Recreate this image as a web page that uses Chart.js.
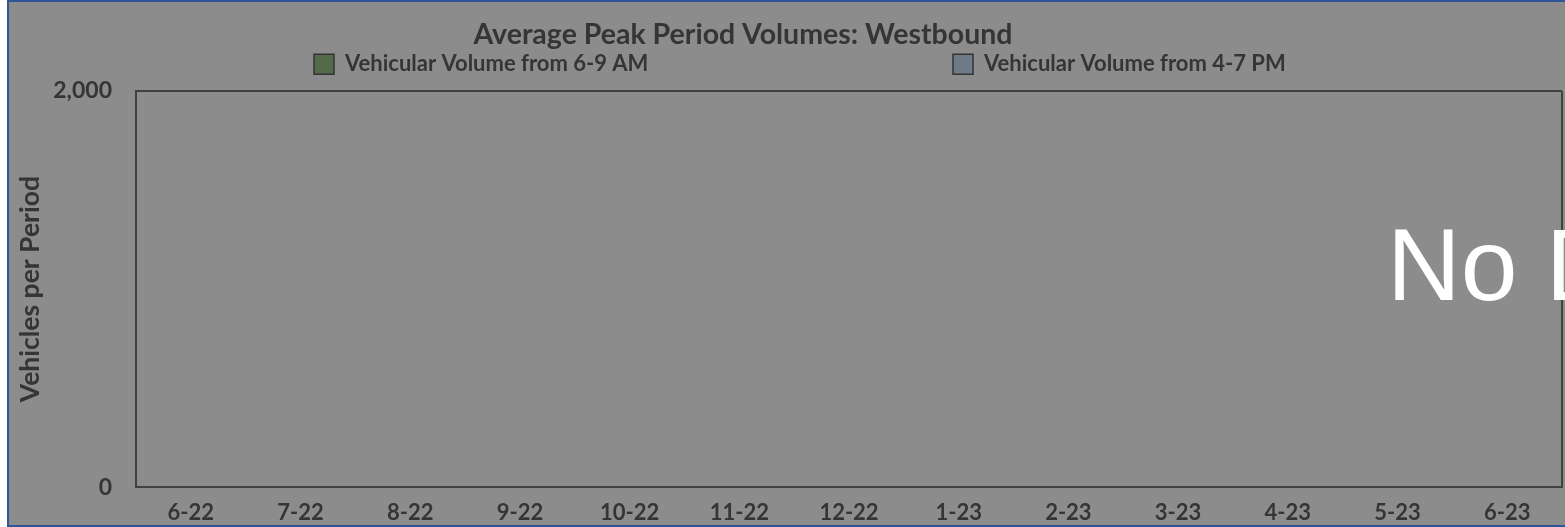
<!DOCTYPE html>
<html>
<head>
<meta charset="utf-8">
<script src="https://cdn.jsdelivr.net/npm/chart.js@4.4.1/dist/chart.umd.min.js"></script>
<style>
  html, body { margin: 0; padding: 0; background: #ffffff; overflow: hidden; width: 1565px; height: 527px; }
  #frame { position: absolute; left: 7px; top: 0; width: 1700px; height: 523px;
           border: 2px solid #2f5597; background: #8c8c8c; overflow: hidden; }
  #c { display: block; }
</style>
</head>
<body>
<div id="frame"><canvas id="c" width="1700" height="523"></canvas></div>
<script>
// ---- data ----
const categories = ['6-22', '7-22', '8-22', '9-22', '10-22', '11-22', '12-22', '1-23', '2-23', '3-23', '4-23', '5-23', '6-23'];
const amVolumes = [null, null, null, null, null, null, null, null, null, null, null, null, null];
const pmVolumes = [null, null, null, null, null, null, null, null, null, null, null, null, null];
const yTickValues = [0, 2000];
const seriesNames = ['Vehicular Volume from 6-9 AM', 'Vehicular Volume from 4-7 PM'];
const chartTitle = 'Average Peak Period Volumes: Westbound';
const yAxisTitle = 'Vehicles per Period';
const noDataText = 'No Data';

// ---- styling ----
const FAMILY = 'Lato, "Open Sans", sans-serif';
const TEXT = '#353535';
const LINE = '#404040';
const mctx = document.createElement('canvas').getContext('2d');
function textW(text, size) { mctx.font = 'bold ' + size + 'px ' + FAMILY; return mctx.measureText(text).width; }
function fitSize(text, target) { return Math.round(100 * target / textW(text, 100) * 2) / 2; }

const titleSize = fitSize(chartTitle, 538.5);
const legendSize = fitSize(seriesNames[0], 305.5);
const xSize = fitSize('7-22', 46);
const yTickSize = fitSize('2,000', 58.5);
const yTitleSize = fitSize(yAxisTitle, 224);

const BOX = 20;
const legendGap = (953 - 314) - BOX - legendSize / 2 - textW(seriesNames[0], legendSize);
const legendItemTop = 52.25 - Math.max((legendSize - BOX) / 2, 0);
const titleLH = titleSize * 1.2;
const titlePadTop = 33 - titleLH / 2;
const titleHeight = titleLH + titlePadTop;
const legendMaxH = 89 - titleHeight;
const xLH = xSize * 1.2;
const xPad = 512.5 - 486.5 - xLH / 2;
const yTitleLH = yTitleSize * 1.2;
const yTitlePad = 21.5 - yTitleLH / 2;

const placeBoxes = {
  id: 'placeBoxes',
  afterLayout(chart) {
    const t = chart.titleBlock;
    if (t) { t.left = 734 - 420; t.right = 734 + 420; }
    const lg = chart.legend;
    if (lg) {
      lg.left = 305 - legendGap;
      lg.right = 5000;
      lg.top = legendItemTop - legendGap;
      lg.bottom = legendItemTop + 40;
    }
  }
};

const noDataPlugin = {
  id: 'noData',
  afterDraw(chart) {
    const { ctx, chartArea } = chart;
    ctx.save();
    ctx.font = '102px "Liberation Sans", Arial, sans-serif';
    ctx.fillStyle = '#ffffff';
    ctx.textAlign = 'left';
    ctx.textBaseline = 'alphabetic';
    ctx.fillText(noDataText, chartArea.left + 1251, chartArea.top + 209);
    ctx.restore();
  }
};

Chart.defaults.font.family = FAMILY;
Chart.defaults.color = TEXT;

new Chart(document.getElementById('c'), {
  type: 'bar',
  data: {
    labels: categories,
    datasets: [
      { label: seriesNames[0], data: amVolumes, backgroundColor: '#556a4a', borderColor: '#333333', borderWidth: 1.5 },
      { label: seriesNames[1], data: pmVolumes, backgroundColor: '#6e7a86', borderColor: '#333333', borderWidth: 1.5 }
    ]
  },
  options: {
    responsive: false,
    animation: false,
    devicePixelRatio: 1,
    layout: { padding: { left: 0, right: 147, top: 0, bottom: 0 } },
    plugins: {
      title: {
        display: true, text: chartTitle, color: TEXT,
        font: { size: titleSize, weight: 'bold', family: FAMILY },
        padding: { top: titlePadTop, bottom: 0 }
      },
      legend: {
        display: true, position: 'top', align: 'start', maxHeight: legendMaxH,
        labels: {
          boxWidth: BOX, boxHeight: BOX, padding: legendGap, color: TEXT,
          font: { size: legendSize, weight: 'bold', family: FAMILY }
        }
      },
      tooltip: { enabled: false }
    },
    scales: {
      x: {
        grid: {
          drawTicks: false, lineWidth: 2,
          color: (c) => (c.type === 'scale' ? LINE : 'rgba(0,0,0,0)')
        },
        border: { display: true, color: LINE, width: 2 },
        ticks: { padding: xPad, color: TEXT, font: { size: xSize, weight: 'bold', family: FAMILY }, maxRotation: 0, autoSkip: false },
        afterFit: (s) => { s.height = 523 - 486.5; }
      },
      y: {
        min: 0, max: 2000,
        afterBuildTicks: (s) => { s.ticks = yTickValues.map(v => ({ value: v })); },
        grid: { drawTicks: false, color: LINE, lineWidth: 2 },
        border: { display: true, color: LINE, width: 2 },
        ticks: {
          padding: 24, color: TEXT,
          font: { size: yTickSize, weight: 'bold', family: FAMILY },
          callback: (v) => Number(v).toLocaleString('en-US')
        },
        title: {
          display: true, text: yAxisTitle, color: TEXT,
          font: { size: yTitleSize, weight: 'bold', family: FAMILY },
          padding: { top: yTitlePad, bottom: 0 }
        },
        afterFit: (s) => { s.width = 127; }
      }
    }
  },
  plugins: [placeBoxes, noDataPlugin]
});
</script>
</body>
</html>
